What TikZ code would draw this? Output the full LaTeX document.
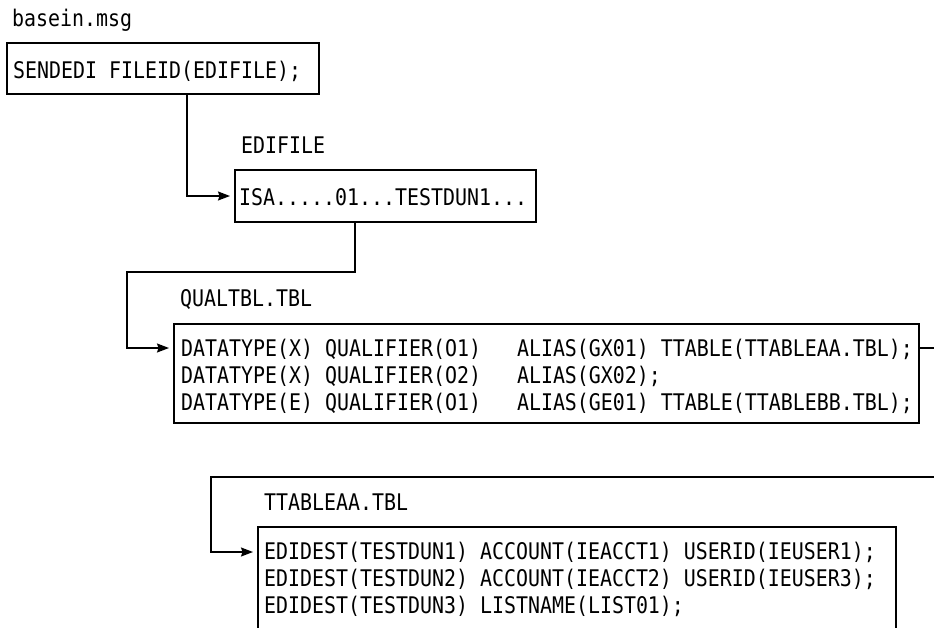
\documentclass[tikz,border=0pt]{standalone}
\usepackage{fontspec}
\newfontfamily\codefont[FakeStretch=0.87]{DejaVu Sans Mono}
\usetikzlibrary{arrows.meta}

\begin{document}
\begin{tikzpicture}[x=1pt,y=-1pt,
  box/.style={draw, line width=1.4pt, rectangle, inner sep=0pt, outer sep=0pt, anchor=north west},
  code/.style={font=\codefont\fontsize{22.9}{27}\selectfont, inner sep=0pt, anchor=base west},
  link/.style={line width=1.4pt},
  feed/.style={link, -{Stealth[length=12pt,width=9pt,inset=1.5pt]}, shorten >=5pt}]
\useasboundingbox (0,0) rectangle (934,627);
\clip (0,0) rectangle (934,627);

% message file
\node[code] (lbl1) at (12,26) {basein.msg};
\node[box, minimum width=312pt, minimum height=51pt] (b1) at (7,43) {};
\node[code] (t1) at (13,78) {SENDEDI FILEID(EDIFILE);};

% EDI file
\node[code] (lbl2) at (241,153) {EDIFILE};
\node[box, minimum width=301pt, minimum height=52pt] (b2) at (235,170) {};
\node[code] (t2) at (239,205) {ISA.....01...TESTDUN1...};

% qualifier table
\node[code] (lbl3) at (180,306) {QUALTBL.TBL};
\node[box, minimum width=745pt, minimum height=99pt] (b3) at (174,324) {};
\node[code] (t3) at (181,356) {\begin{tabular}[t]{@{}l@{}}
DATATYPE(X) QUALIFIER(O1)~~~ALIAS(GX01) TTABLE(TTABLEAA.TBL);\\
DATATYPE(X) QUALIFIER(O2)~~~ALIAS(GX02);\\
DATATYPE(E) QUALIFIER(O1)~~~ALIAS(GE01) TTABLE(TTABLEBB.TBL);
\end{tabular}};

% translation table
\node[code] (lbl4) at (264,510) {TTABLEAA.TBL};
\node[box, minimum width=638pt, minimum height=110pt] (b4) at (258,527) {};
\node[code] (t4) at (264,559) {\begin{tabular}[t]{@{}l@{}}
EDIDEST(TESTDUN1) ACCOUNT(IEACCT1) USERID(IEUSER1);\\
EDIDEST(TESTDUN2) ACCOUNT(IEACCT2) USERID(IEUSER3);\\
EDIDEST(TESTDUN3) LISTNAME(LIST01);
\end{tabular}};

% routing points
\coordinate (k1) at (127,272);
\coordinate (e1) at (934,348);
\coordinate (e2) at (934,477);
\coordinate (k2) at (211,477);

% connectors
\draw[feed] ([xshift=180pt]b1.south west) |- (b2.west);
\draw[feed] ([xshift=120pt]b2.south west) |- (k1) |- ([yshift=-24pt]b3.north west);
\draw[link] ([yshift=-24pt]b3.north east) -- (e1);
\draw[feed] (e2) -- (k2) |- ([yshift=-25pt]b4.north west);
\end{tikzpicture}
\end{document}
